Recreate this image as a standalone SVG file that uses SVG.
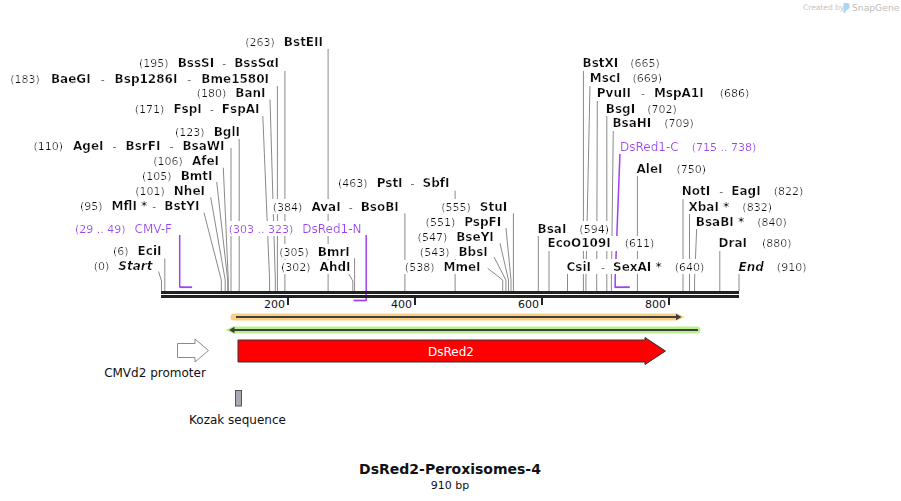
<svg xmlns="http://www.w3.org/2000/svg" width="901" height="501" viewBox="0 0 901 501">
<defs>
<style>
text{font-family:"DejaVu Sans",Verdana,sans-serif;}
.lab{font-size:11px;fill:#111;}
.b{font-size:12px;font-weight:bold;}
.bi{font-size:12px;font-weight:bold;font-style:italic;}
.pl{fill:#a040f0;}
.pn{font-size:12px;}
.ld{fill:none;stroke:#8a8a8a;stroke-width:1;}
.pr{fill:none;stroke:#a040f0;stroke-width:1.5;}
.prb{fill:#a040f0;}
.tick{font-size:11px;fill:#111;}
</style>
<filter id="wb" x="-0.01" y="0" width="1.02" height="1">
<feFlood flood-color="#ffffff"/>
<feComposite in="SourceGraphic" operator="over"/>
</filter>
</defs>
<rect width="901" height="501" fill="#ffffff"/>

<g id="watermark">
<text x="803" y="10" font-family="Liberation Sans,Arial,sans-serif" font-size="7.5" fill="#c4c4c4">Created by</text>
<path d="M843.5 3 h4 a2 2 0 0 1 2 2 v3 l-4 3 v2 h-2 z" fill="#a9d6f5"/>
<text x="852" y="10.5" font-family="Liberation Sans,Arial,sans-serif" font-size="9.2" fill="#bdbdbd">SnapGene</text>
</g>

<g id="connectors">
<path class="ld" d="M328.1 49V291"/>
<path class="ld" d="M284.9 71V291"/>
<path class="ld" d="M277.4 86V291"/>
<path class="ld" d="M270 99.5L275.3 280V291"/>
<path class="ld" d="M262.8 116L269.6 280V291"/>
<path class="ld" d="M239.2 138.5V291"/>
<path class="ld" d="M231 148V291"/>
<path class="ld" d="M223.3 167.7L228.3 280V291"/>
<path class="ld" d="M216.7 182L227.7 280V291"/>
<path class="ld" d="M210.7 197.3L225.2 280V291"/>
<path class="ld" d="M204 212.7L221.3 280V291"/>
<path class="ld" d="M164.8 258.5V291"/>
<path class="ld" d="M158.5 271.5L161.5 281V291"/>
<path class="ld" d="M404.9 213.3V291"/>
<path class="ld" d="M354.6 258.3V291"/>
<path class="ld" d="M347.7 272L352.8 281V291"/>
<path class="ld" d="M455.1 190.7V291"/>
<path class="ld" d="M513.4 213.3V291"/>
<path class="ld" d="M506 228L511 280V291"/>
<path class="ld" d="M500 243.3L508.5 280V291"/>
<path class="ld" d="M494 257L505.9 280V291"/>
<path class="ld" d="M487.7 268.3L502.7 280V291"/>
<path class="ld" d="M583.4 70.7V291"/>
<path class="ld" d="M590 84.3L585.9 280V291"/>
<path class="ld" d="M597.3 100.7L596.7 280V291"/>
<path class="ld" d="M606.8 115.3V291"/>
<path class="ld" d="M613.3 129.3L611.4 280V291"/>
<path class="ld" d="M637.4 175V291"/>
<path class="ld" d="M683 199.3V291"/>
<path class="ld" d="M689.5 212.7V291"/>
<path class="ld" d="M696.7 227.7L694.6 280V291"/>
<path class="ld" d="M719.8 249.3V291"/>
<path class="ld" d="M739 272.7V291"/>
<path class="ld" d="M538.3 235V291"/>
<path class="ld" d="M549 250V291"/>
<path class="ld" d="M567.5 274V291"/>
<path class="pr" d="M179.7 235V287"/>
<rect class="prb" x="179.4" y="286.3" width="12.7" height="1.8"/>
<path class="pr" d="M366.2 235V301"/>
<rect class="prb" x="353.5" y="299.6" width="12.7" height="1.8"/>
<path class="pr" d="M620 152.7L615.2 278V287"/>
<rect class="prb" x="614.5" y="286.3" width="15.3" height="1.8"/>
</g>

<g id="backbone">
<rect x="161" y="291" width="578" height="3" fill="#222"/>
<rect x="161" y="295" width="578" height="3" fill="#222"/>
<rect x="287" y="297" width="2" height="8" fill="#222"/>
<rect x="414" y="297" width="2" height="8" fill="#222"/>
<rect x="541" y="297" width="2" height="8" fill="#222"/>
<rect x="668" y="297" width="2" height="8" fill="#222"/>
<text class="tick" x="285" y="307.5" text-anchor="end">200</text>
<text class="tick" x="412" y="307.5" text-anchor="end">400</text>
<text class="tick" x="539" y="307.5" text-anchor="end">600</text>
<text class="tick" x="666" y="307.5" text-anchor="end">800</text>
</g>

<g id="labels-left">
<text id="BstEII" class="lab" filter="url(#wb)" x="323" y="45.5" text-anchor="end">(263)<tspan class="b" dx="9">BstEII</tspan></text>
<text id="BssSI" class="lab" filter="url(#wb)" x="279" y="66.5" text-anchor="end">(195)<tspan class="b" dx="9">BssSI</tspan><tspan dx="8">-</tspan><tspan class="b" dx="8">BssSαI</tspan></text>
<text id="BaeGI" class="lab" filter="url(#wb)" x="269" y="83" text-anchor="end">(183)<tspan class="b" dx="11">BaeGI</tspan><tspan dx="10">-</tspan><tspan class="b" dx="10">Bsp1286I</tspan><tspan dx="10">-</tspan><tspan class="b" dx="10">Bme1580I</tspan></text>
<text id="BanI" class="lab" filter="url(#wb)" x="265.5" y="97" text-anchor="end">(180)<tspan class="b" dx="9">BanI</tspan></text>
<text id="FspI" class="lab" filter="url(#wb)" x="259.5" y="113" text-anchor="end">(171)<tspan class="b" dx="9">FspI</tspan><tspan dx="8">-</tspan><tspan class="b" dx="8">FspAI</tspan></text>
<text id="BglI" class="lab" filter="url(#wb)" x="240" y="136" text-anchor="end">(123)<tspan class="b" dx="9">BglI</tspan></text>
<text id="AgeI" class="lab" filter="url(#wb)" x="224.5" y="150" text-anchor="end">(110)<tspan class="b" dx="10">AgeI</tspan><tspan dx="9">-</tspan><tspan class="b" dx="9">BsrFI</tspan><tspan dx="9">-</tspan><tspan class="b" dx="9">BsaWI</tspan></text>
<text id="AfeI" class="lab" filter="url(#wb)" x="219" y="165" text-anchor="end">(106)<tspan class="b" dx="9">AfeI</tspan></text>
<text id="BmtI" class="lab" filter="url(#wb)" x="212.5" y="180" text-anchor="end">(105)<tspan class="b" dx="9">BmtI</tspan></text>
<text id="NheI" class="lab" filter="url(#wb)" x="205" y="195" text-anchor="end">(101)<tspan class="b" dx="9">NheI</tspan></text>
<text id="MflI" class="lab" filter="url(#wb)" x="199.5" y="210" text-anchor="end">(95)<tspan class="b" dx="9">MflI *</tspan><tspan dx="5">-</tspan><tspan class="b" dx="8">BstYI</tspan></text>
<text id="CMV-F" class="lab pl" filter="url(#wb)" x="172" y="232.7" text-anchor="end">(29 .. 49)<tspan class="pn" dx="9">CMV-F</tspan></text>
<text id="EciI" class="lab" filter="url(#wb)" x="161.5" y="255" text-anchor="end">(6)<tspan class="b" dx="9">EciI</tspan></text>
<text id="Start" class="lab" filter="url(#wb)" x="152.5" y="270" text-anchor="end">(0)<tspan class="bi" dx="9">Start</tspan></text>
</g>

<g id="labels-mid">
<text id="AvaI" class="lab" filter="url(#wb)" x="398.8" y="210.7" text-anchor="end">(384)<tspan class="b" dx="9">AvaI</tspan><tspan dx="8">-</tspan><tspan class="b" dx="8">BsoBI</tspan></text>
<text id="DsRed1-N" class="lab pl" filter="url(#wb)" x="361.5" y="232.7" text-anchor="end">(303 .. 323)<tspan class="pn" dx="9">DsRed1-N</tspan></text>
<text id="BmrI" class="lab" filter="url(#wb)" x="349.8" y="255.7" text-anchor="end">(305)<tspan class="b" dx="9">BmrI</tspan></text>
<text id="AhdI" class="lab" filter="url(#wb)" x="350.5" y="271" text-anchor="end">(302)<tspan class="b" dx="9">AhdI</tspan></text>
<text id="PstI" class="lab" filter="url(#wb)" x="449.5" y="187.3" text-anchor="end">(463)<tspan class="b" dx="9">PstI</tspan><tspan dx="8">-</tspan><tspan class="b" dx="8">SbfI</tspan></text>
<text id="StuI" class="lab" filter="url(#wb)" x="507.2" y="210.7" text-anchor="end">(555)<tspan class="b" dx="9">StuI</tspan></text>
<text id="PspFI" class="lab" filter="url(#wb)" x="501.2" y="225.7" text-anchor="end">(551)<tspan class="b" dx="9">PspFI</tspan></text>
<text id="BseYI" class="lab" filter="url(#wb)" x="493.8" y="240.7" text-anchor="end">(547)<tspan class="b" dx="9">BseYI</tspan></text>
<text id="BbsI" class="lab" filter="url(#wb)" x="487.8" y="255.7" text-anchor="end">(543)<tspan class="b" dx="9">BbsI</tspan></text>
<text id="MmeI" class="lab" filter="url(#wb)" x="480.5" y="271" text-anchor="end">(538)<tspan class="b" dx="9">MmeI</tspan></text>
</g>

<g id="labels-right">
<text id="BstXI" class="lab" filter="url(#wb)" x="582.5" y="67.3"><tspan class="b">BstXI</tspan><tspan dx="12">(665)</tspan></text>
<text id="MscI" class="lab" filter="url(#wb)" x="589.8" y="82.3"><tspan class="b">MscI</tspan><tspan dx="12">(669)</tspan></text>
<text id="PvuII" class="lab" filter="url(#wb)" x="596.8" y="97.3"><tspan class="b">PvuII</tspan><tspan dx="10">-</tspan><tspan class="b" dx="9">MspA1I</tspan><tspan dx="16">(686)</tspan></text>
<text id="BsgI" class="lab" filter="url(#wb)" x="605.8" y="112.7"><tspan class="b">BsgI</tspan><tspan dx="12">(702)</tspan></text>
<text id="BsaHI" class="lab" filter="url(#wb)" x="612.4" y="127.3"><tspan class="b">BsaHI</tspan><tspan dx="13">(709)</tspan></text>
<text id="DsRed1-C" class="lab pl" filter="url(#wb)" x="620" y="150.7"><tspan class="pn">DsRed1-C</tspan><tspan dx="13">(715 .. 738)</tspan></text>
<text id="AleI" class="lab" filter="url(#wb)" x="636.5" y="172.7"><tspan class="b">AleI</tspan><tspan dx="14">(750)</tspan></text>
<text id="NotI" class="lab" filter="url(#wb)" x="681.8" y="195.3"><tspan class="b">NotI</tspan><tspan dx="9">-</tspan><tspan class="b" dx="8">EagI</tspan><tspan dx="13">(822)</tspan></text>
<text id="XbaI" class="lab" filter="url(#wb)" x="688.5" y="210.7"><tspan class="b">XbaI *</tspan><tspan dx="13">(832)</tspan></text>
<text id="BsaBI" class="lab" filter="url(#wb)" x="695.8" y="225.7"><tspan class="b">BsaBI *</tspan><tspan dx="13">(840)</tspan></text>
<text id="DraI" class="lab" filter="url(#wb)" x="718.5" y="247.3"><tspan class="b">DraI</tspan><tspan dx="15">(880)</tspan></text>
<text id="End" class="lab" filter="url(#wb)" x="738.5" y="270.7"><tspan class="bi">End</tspan><tspan dx="13">(910)</tspan></text>
<text id="BsaI" class="lab" filter="url(#wb)" x="537.5" y="232.7"><tspan class="b">BsaI</tspan><tspan dx="13">(594)</tspan></text>
<text id="EcoO109I" class="lab" filter="url(#wb)" x="547.5" y="247.3"><tspan class="b">EcoO109I</tspan><tspan dx="14">(611)</tspan></text>
<text id="CsiI" class="lab" filter="url(#wb)" x="566.5" y="270.7"><tspan class="b">CsiI</tspan><tspan dx="10">-</tspan><tspan class="b" dx="8">SexAI *</tspan><tspan dx="13">(640)</tspan></text>
</g>

<g id="orf-forward">
<path d="M234 313.5H677L684.5 317L677 320.5H234A3.5 3.5 0 0 1 234 313.5Z" fill="#fbcf80"/>
<path d="M236 317H677" stroke="#404040" stroke-width="2" fill="none"/>
<path d="M676 313.8L681.5 317L676 320.2Z" fill="#404040"/>
</g>
<g id="orf-reverse">
<path d="M233 326.5H697A3.5 3.5 0 0 1 697 333.5H233L225.5 330Z" fill="#b9f08c"/>
<path d="M233 330H698" stroke="#404040" stroke-width="2" fill="none"/>
<path d="M234.5 326.8L229 330L234.5 333.2Z" fill="#404040"/>
</g>

<g id="DsRed2">
<path d="M238 340H645V337.5L665.5 351L645 364.5V362H238Z" fill="#ff0000" stroke="#333" stroke-width="1"/>
<text x="451" y="355.5" text-anchor="middle" font-size="12" fill="#ffffff">DsRed2</text>
</g>

<g id="CMVd2-promoter">
<path d="M177.5 343.5H195V339L208.5 350.5L195 362V357.5H177.5Z" fill="#ffffff" stroke="#8a8a8a" stroke-width="1"/>
<text x="155" y="377" text-anchor="middle" font-size="12" fill="#111">CMVd2 promoter</text>
</g>

<g id="Kozak">
<rect x="235.5" y="390.5" width="6" height="15.5" fill="#a6aab2" stroke="#555" stroke-width="1"/>
<text x="237.5" y="423.5" text-anchor="middle" font-size="12" fill="#111">Kozak sequence</text>
</g>

<g id="title">
<text x="450" y="474" text-anchor="middle" font-size="14" font-weight="bold" fill="#111">DsRed2-Peroxisomes-4</text>
<text x="450" y="488.5" text-anchor="middle" font-size="11" fill="#111">910 bp</text>
</g>
</svg>
